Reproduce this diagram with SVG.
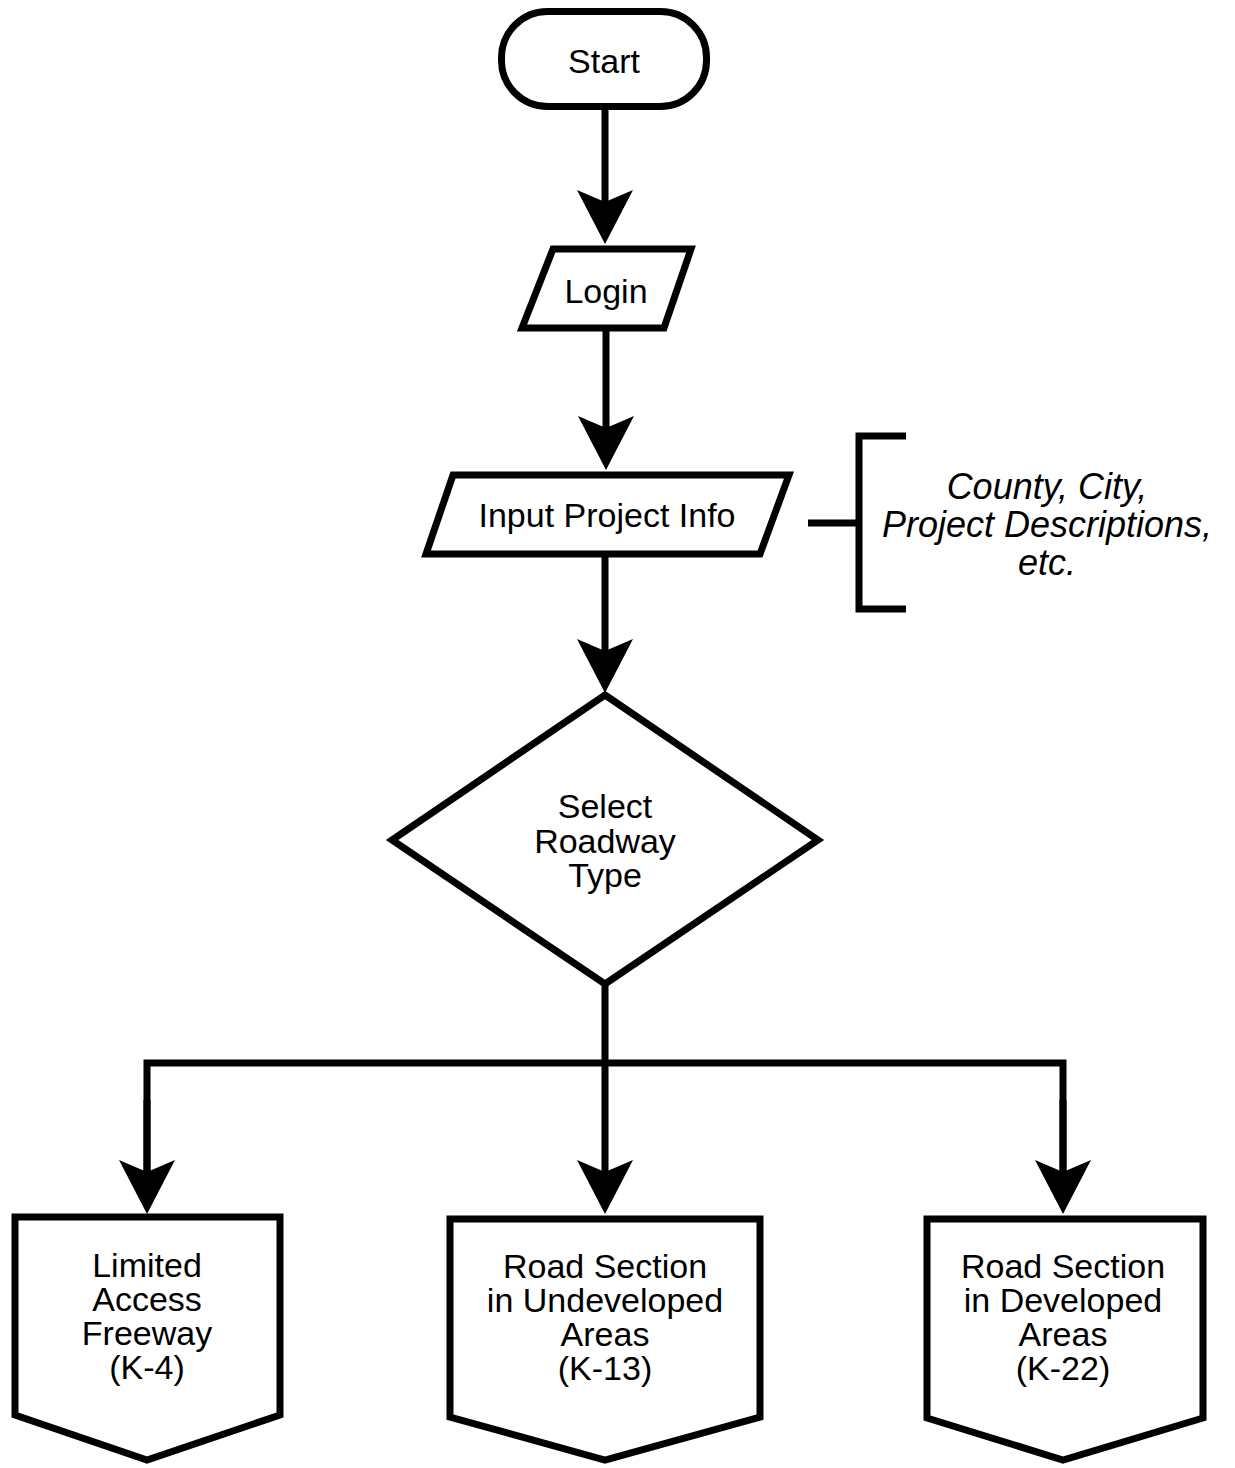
<svg xmlns="http://www.w3.org/2000/svg" width="1235" height="1468" viewBox="0 0 1235 1468">
<style>
.shape{fill:#fff;stroke:#000;stroke-width:7;stroke-linejoin:miter}
.conn{fill:none;stroke:#000;stroke-width:7}
.t{font-family:"Liberation Sans",Arial,sans-serif;font-size:34px;fill:#000;text-anchor:middle}
.ti{font-family:"Liberation Sans",Arial,sans-serif;font-size:36px;font-style:italic;fill:#000;text-anchor:middle}
</style>
<defs>
<marker id="arr" markerUnits="userSpaceOnUse" markerWidth="56" markerHeight="56" viewBox="0 0 56 56" refX="24" refY="28" orient="auto">
<path d="M54,28 L0,0 L12,28 L0,56 Z" fill="#000"/>
</marker>
</defs>
<rect width="1235" height="1468" fill="#fff"/>
<g id="connectors">
<line class="conn" x1="605" y1="107" x2="605" y2="214" marker-end="url(#arr)"/>
<line class="conn" x1="606" y1="329" x2="606" y2="440" marker-end="url(#arr)"/>
<line class="conn" x1="605" y1="555" x2="605" y2="663" marker-end="url(#arr)"/>
<line class="conn" x1="605" y1="983" x2="605" y2="1184" marker-end="url(#arr)"/>
<polyline class="conn" points="147,1184 147,1063 1063,1063 1063,1184" marker-start="none"/>
<line class="conn" x1="147" y1="1100" x2="147" y2="1184" marker-end="url(#arr)"/>
<line class="conn" x1="1063" y1="1100" x2="1063" y2="1184" marker-end="url(#arr)"/>
<line class="conn" x1="808" y1="523" x2="859" y2="523"/>
<path class="conn" d="M906,436 H859 V609 H906"/>
</g>
<g id="start">
<rect class="shape" x="501.5" y="11.5" width="205" height="95" rx="46" ry="46"/>
<text class="t" x="604" y="73">Start</text>
</g>
<g id="login">
<polygon class="shape" points="553,249 691,249 664,328 522,328"/>
<text class="t" x="606" y="303">Login</text>
</g>
<g id="input">
<polygon class="shape" points="453,475 789,475 760,554 426,554"/>
<text class="t" x="607" y="527">Input Project Info</text>
</g>
<g id="note">
<text class="ti" x="1047" y="499">County, City,</text>
<text class="ti" x="1047" y="537">Project Descriptions,</text>
<text class="ti" x="1047" y="575">etc.</text>
</g>
<g id="select">
<polygon class="shape" points="605,695 818,840 605,984 392,840"/>
<text class="t" x="605" y="818">Select</text>
<text class="t" x="605" y="853">Roadway</text>
<text class="t" x="605" y="887">Type</text>
</g>
<g id="k4">
<polygon class="shape" points="15,1217 280,1217 280,1415 147,1460 15,1415"/>
<text class="t" x="147" y="1277">Limited</text>
<text class="t" x="147" y="1311">Access</text>
<text class="t" x="147" y="1345">Freeway</text>
<text class="t" x="147" y="1379">(K-4)</text>
</g>
<g id="k13">
<polygon class="shape" points="450,1219 760,1219 760,1417 605,1460 450,1417"/>
<text class="t" x="605" y="1278">Road Section</text>
<text class="t" x="605" y="1312">in Undeveloped</text>
<text class="t" x="605" y="1346">Areas</text>
<text class="t" x="605" y="1380">(K-13)</text>
</g>
<g id="k22">
<polygon class="shape" points="927,1219 1203,1219 1203,1418 1063,1460 927,1418"/>
<text class="t" x="1063" y="1278">Road Section</text>
<text class="t" x="1063" y="1312">in Developed</text>
<text class="t" x="1063" y="1346">Areas</text>
<text class="t" x="1063" y="1380">(K-22)</text>
</g>
</svg>
